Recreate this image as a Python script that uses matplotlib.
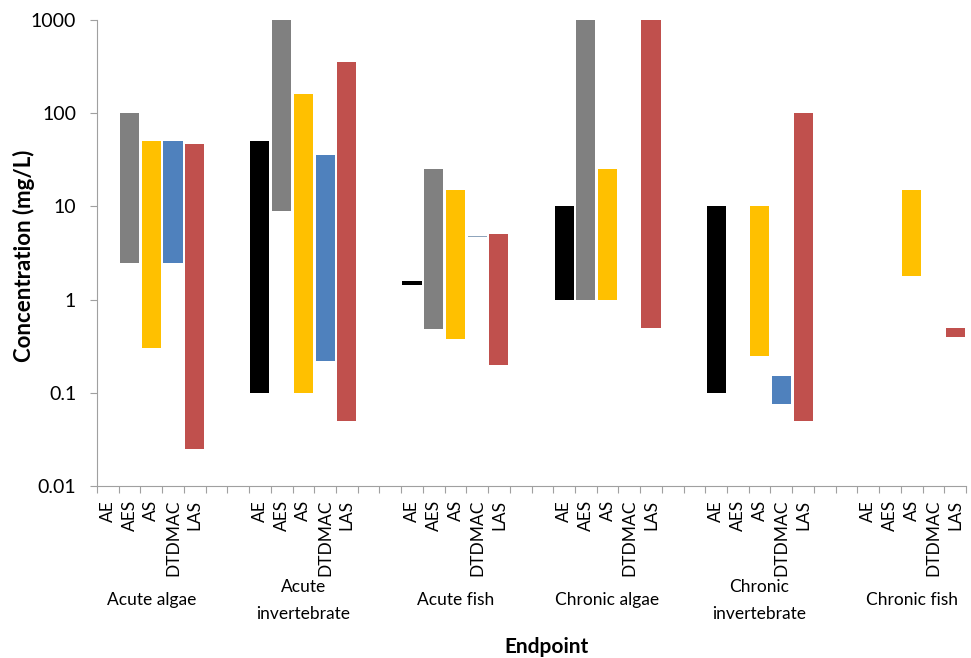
import numpy as np
import matplotlib
matplotlib.use("Agg")
import matplotlib.pyplot as plt
from matplotlib.ticker import FixedLocator, NullFormatter, NullLocator

plt.rcParams['font.family'] = ['Lato', 'DejaVu Sans']

# Endpoints (groups) and substances
endpoints = ["Acute algae", "Acute\ninvertebrate", "Acute fish",
             "Chronic algae", "Chronic\ninvertebrate", "Chronic fish"]
substances = ["AE", "AES", "AS", "DTDMAC", "LAS"]
colors = ["#000000", "#808080", "#FFC000", "#4F81BD", "#C0504D"]

# min / max concentration (mg/L) per endpoint, order AE, AES, AS, DTDMAC, LAS
nan = np.nan
low = {
    "AE":     [nan, 0.1,  1.43, 1.0,  0.1,  nan],
    "AES":    [2.5, 9.0,  0.48, 1.0,  nan,  nan],
    "AS":     [0.3, 0.1,  0.38, 1.0,  0.25, 1.8],
    "DTDMAC": [2.5, 0.22, 4.72, nan,  0.075, nan],
    "LAS":    [0.025, 0.05, 0.2, 0.5, 0.05, 0.4],
}
high = {
    "AE":     [nan, 50,   1.58, 10,   10,   nan],
    "AES":    [100, 1000, 25,   1000, nan,  nan],
    "AS":     [50,  160,  15,   25,   10,   15],
    "DTDMAC": [50,  36,   4.8,  nan,  0.15, nan],
    "LAS":    [47,  350,  5,    1000, 100,  0.5],
}

gap = 2  # empty slots between endpoint groups
n_sub = len(substances)
step = n_sub + gap

fig = plt.figure(figsize=(9.71, 6.58), dpi=100)
ax = fig.add_axes([97 / 971, 1 - 486 / 658, (966 - 97) / 971, (486 - 20) / 658])

label_pos = []
label_txt = []
for g in range(len(endpoints)):
    for s, sub in enumerate(substances):
        x = g * step + s + 0.5
        label_pos.append(x)
        label_txt.append(sub)
        lo, hi = low[sub][g], high[sub][g]
        if np.isnan(lo):
            continue
        c = colors[s]
        if sub == "DTDMAC" and g == 2:
            c = "#8FA5BC"
        ax.bar(x, hi - lo, bottom=lo, width=0.88, color=c, linewidth=0)

ax.set_yscale("log")
ax.set_ylim(0.01, 1000)
ax.set_xlim(0, len(endpoints) * step - gap)
ax.yaxis.set_major_locator(FixedLocator([0.01, 0.1, 1, 10, 100, 1000]))
ax.set_yticklabels(["0.01", "0.1", "1", "10", "100", "1000"])
ax.yaxis.set_minor_locator(NullLocator())
ax.tick_params(axis="y", which="major", length=5, color="#A0A0A0",
               labelsize=14, pad=10)

# boundary ticks every slot, labels at slot centres
ax.xaxis.set_major_locator(FixedLocator(np.arange(0, len(endpoints) * step - gap + 1)))
ax.xaxis.set_major_formatter(NullFormatter())
ax.xaxis.set_minor_locator(FixedLocator(label_pos))
ax.set_xticklabels(label_txt, minor=True, rotation=90, fontsize=12.5)
ax.tick_params(axis="x", which="major", length=5, color="#A0A0A0")
ax.tick_params(axis="x", which="minor", length=0, pad=10)

for sp in ["top", "right"]:
    ax.spines[sp].set_visible(False)
for sp in ["left", "bottom"]:
    ax.spines[sp].set_color("#A0A0A0")

# endpoint group labels
for g, name in enumerate(endpoints):
    xc = g * step + (n_sub - 1) / 2 + 0.5
    ax.text(xc, -0.245, name, transform=ax.get_xaxis_transform(),
            ha="center", va="center", fontsize=12.5, linespacing=1.85)

fig.text(24 / 971, 1 - 256 / 658, "Concentration (mg/L)", rotation=90,
         ha="center", va="center", fontsize=16, fontweight="bold")
fig.text(547 / 971, 0.002, "Endpoint", ha="center", va="bottom",
         fontsize=15, fontweight="bold")

fig.savefig("out.png", dpi=100)
